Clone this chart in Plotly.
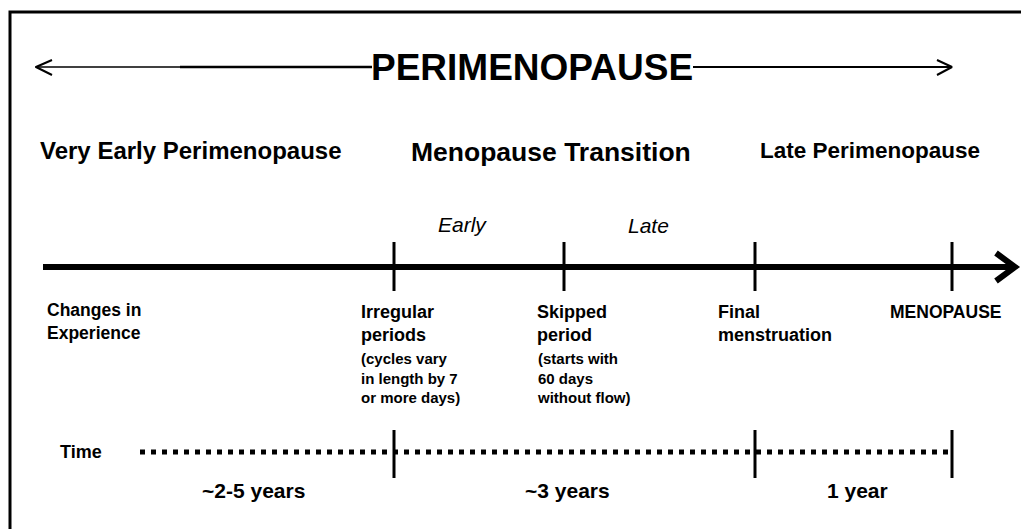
import plotly.graph_objects as go

# ---------------- data (texts) ----------------
title_text = "PERIMENOPAUSE"
stage_names = ["Very Early Perimenopause", "Menopause Transition", "Late Perimenopause"]
substage_names = ["Early", "Late"]
milestone_titles = ["Changes in<br>Experience", "Irregular<br>periods", "Skipped<br>period",
                    "Final<br>menstruation", "MENOPAUSE"]
milestone_notes = ["", "(cycles vary<br>in length by 7<br>or more days)",
                   "(starts with<br>60 days<br>without flow)", "", ""]
time_label = "Time"
duration_labels = ["~2-5 years", "~3 years", "1 year"]

# ---------------- layout geometry (pixel space) ----------------
W, H = 1021, 529
FONT = "Liberation Sans, Arial, sans-serif"
milestone_pos = [394, 564, 755, 952]          # tick positions on the main timeline
time_tick_pos = [394, 755, 952]               # tick positions on the time line
line_y, time_y = 267, 452

fig = go.Figure()

def seg(xs, ys, width, dash="solid", color="black"):
    fig.add_trace(go.Scatter(x=xs, y=ys, mode="lines", hoverinfo="skip",
                             line=dict(color=color, width=width, dash=dash),
                             showlegend=False))

# top double arrow around the title
seg([35, 180], [67, 67], 1.6)
seg([180, 372], [67, 67], 2.4)
seg([693, 951], [67, 67], 2.2)
seg([52, 36, 52], [60, 67, 75], 2)
seg([937, 952, 937], [60, 67, 75], 2)

# main timeline with chevron head
seg([43, 1010], [line_y, line_y], 6)
seg([996, 1015, 996], [253, line_y, 281], 6)
tx, ty = [], []
for p in milestone_pos:
    tx += [p, p, None]
    ty += [242, 291, None]
seg(tx, ty, 3)

# time dotted line
seg([140, 949], [time_y, time_y], 5, dash="5px,6px")
tx, ty = [], []
for p in time_tick_pos:
    tx += [p, p, None]
    ty += [430, 478, None]
seg(tx, ty, 3)

# frame
fig.add_shape(type="rect", x0=10, y0=12, x1=1035, y1=545,
              line=dict(color="black", width=3), layer="above")

def txt(x, y, s, size, xanchor="left", bold=True, italic=False, yanchor="middle"):
    t = s
    if bold:
        t = "<b>" + t + "</b>"
    if italic:
        t = "<i>" + t + "</i>"
    fig.add_annotation(x=x, y=y, text=t, showarrow=False, xanchor=xanchor,
                       yanchor=yanchor, align="left",
                       font=dict(family=FONT, size=size, color="black"))

# title
txt(532, 67, title_text, 37, xanchor="center")

# stage headings
txt(38, 150, stage_names[0], 24)
txt(409, 152, stage_names[1], 26.5)
txt(758, 150, stage_names[2], 22.5)

# substages
txt(462, 224, substage_names[0], 21, xanchor="center", bold=False, italic=True)
txt(648, 225, substage_names[1], 21, xanchor="center", bold=False, italic=True)

# milestone labels
m_x = [45, 359, 535, 716, 888]
m_y = [321, 323.5, 323.5, 323.5, 312]
m_size = [17.5, 18, 18, 18, 17.5]
for x, y, s, fs in zip(m_x, m_y, milestone_titles, m_size):
    txt(x, y, s, fs)
for x, s in zip(m_x, milestone_notes):
    if s:
        txt(x, 377.5, s, 15)

# time row
txt(58, 452, time_label, 18)
d_x = [253, 567, 857]
for x, s in zip(d_x, duration_labels):
    txt(x, 490, s, 21, xanchor="center")

fig.update_layout(
    width=W, height=H,
    margin=dict(l=0, r=0, t=0, b=0),
    paper_bgcolor="white", plot_bgcolor="white",
    xaxis=dict(range=[0, W], visible=False, fixedrange=True),
    yaxis=dict(range=[H, 0], visible=False, fixedrange=True),
)

fig.write_html("out.html", config={"displayModeBar": False},
               post_script="document.body.style.margin='0';document.body.style.overflow='hidden';")
